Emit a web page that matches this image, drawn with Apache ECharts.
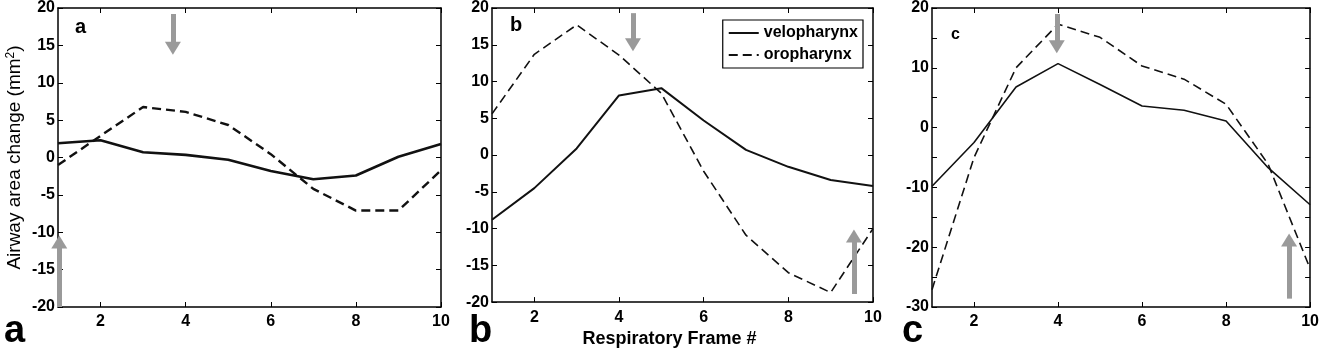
<!DOCTYPE html>
<html>
<head>
<meta charset="utf-8">
<script src="https://cdn.jsdelivr.net/npm/echarts@6/dist/echarts.min.js"></script>
<style>
  html, body { margin: 0; padding: 0; background: #fff; }
  #chart { width: 1322px; height: 353px; }
</style>
</head>
<body>
<div id="chart"></div>
<script>
// data
var frames = [1, 2, 3, 4, 5, 6, 7, 8, 9, 10];
var veloA = [1.9, 2.3, 0.7, 0.35, -0.3, -1.8, -2.9, -2.4, 0.1, 1.8];
var oroA = [-1.0, 2.9, 6.75, 6.1, 4.35, 0.45, -4.2, -7.1, -7.1, -1.7];
var veloB = [-8.8, -4.5, 0.9, 8.1, 9.1, 4.7, 0.7, -1.6, -3.4, -4.2];
var oroB = [5.6, 13.7, 17.7, 13.6, 8.4, -2.2, -10.9, -16.0, -18.7, -10.0];
var veloC = [-9.8, -2.5, 6.8, 10.7, 7.2, 3.6, 2.9, 1.1, -6.7, -12.9];
var oroC = [-27.1, -5.0, 10.0, 17.3, 15.1, 10.3, 8.1, 3.9, -6.1, -23.6];

// tick labels
var xTicks = [2, 4, 6, 8, 10];
var yTicksAB = [-20, -15, -10, -5, 0, 5, 10, 15, 20];
var yLabelsC = [-30, -20, -10, 0, 10, 20];
var yTicksC = [-30, -25, -20, -15, -10, -5, 0, 5, 10, 15, 20];

// gray arrows: [frame, from, to]
var arrowsA = [[3.7, 19.2, 14.6], [1.03, -20, -11.3]];
var arrowsB = [[4.33, 19.3, 15.0], [9.55, -18.9, -11.0]];
var arrowsC = [[3.97, 19.0, 13.5], [9.5, -28.6, -18.8]];

var font = 'Liberation Sans, Arial, sans-serif';
var grids = [
  {left: 58, top: 7, width: 383, height: 300},
  {left: 492, top: 7, width: 381, height: 300},
  {left: 932, top: 7, width: 381, height: 300}
];

function pts(ys) {
  return frames.map(function (f, i) { return [f, ys[i]]; });
}

function arrowLines(list) {
  return {
    silent: true,
    symbol: ['none', 'triangle'],
    symbolSize: [16, 13],
    label: {show: false},
    lineStyle: {color: '#9a9a9a', width: 5, type: 'solid'},
    data: list.map(function (a) {
      return [{coord: [a[0], a[1]]}, {coord: [a[0], a[2]]}];
    })
  };
}

var xAxes = [], yAxes = [];
for (var k = 0; k < 6; k++) {
  var g = k % 3, mirror = k >= 3, isC = g === 2;
  xAxes.push({
    type: 'value', gridIndex: g, min: 1, max: 10, position: mirror ? 'top' : 'bottom',
    axisLine: {onZero: false, lineStyle: {color: '#000', width: 1.5}},
    axisTick: {inside: true, length: 5, customValues: xTicks, lineStyle: {color: '#000'}},
    axisLabel: {show: !mirror, customValues: xTicks, margin: 7, color: '#000', fontFamily: font, fontWeight: 'bold', fontSize: 16},
    splitLine: {show: false}
  });
  yAxes.push({
    type: 'value', gridIndex: g, min: isC ? -30 : -20, max: 20, position: mirror ? 'right' : 'left',
    axisLine: {show: true, onZero: false, lineStyle: {color: '#000', width: 1.5}},
    axisTick: {show: true, inside: true, length: 5, customValues: isC ? yTicksC : yTicksAB, lineStyle: {color: '#000'}},
    axisLabel: {show: !mirror, customValues: isC ? yLabelsC : yTicksAB, margin: 3, color: '#000', fontFamily: font, fontWeight: 'bold', fontSize: 16},
    splitLine: {show: false}
  });
}

yAxes[0].name = '{t|Airway area change (mm}{s|2}{t|)}';
yAxes[0].nameLocation = 'middle';
yAxes[0].nameGap = 33;
yAxes[0].nameTextStyle = {
  rich: {
    t: {fontFamily: font, fontSize: 19, color: '#000'},
    s: {fontFamily: font, fontSize: 12, color: '#000', verticalAlign: 'top', padding: [0, 0, 8, 0]}
  }
};
xAxes[1].name = 'Respiratory Frame #';
xAxes[1].nameLocation = 'middle';
xAxes[1].nameGap = 27;
xAxes[1].nameTextStyle = {fontFamily: font, fontSize: 18, fontWeight: 'bold', color: '#000', padding: [0, 26, 0, 0]};

function line(name, g, ys, dashed, width, arrows) {
  var s = {
    name: name, type: 'line', xAxisIndex: g, yAxisIndex: g,
    data: pts(ys), symbol: 'none', color: '#111',
    lineStyle: {color: '#111', width: width, type: dashed ? [9, 5] : 'solid'}
  };
  if (arrows) s.markLine = arrowLines(arrows);
  return s;
}

var option = {
  animation: false,
  backgroundColor: '#fff',
  textStyle: {fontFamily: font},
  grid: grids,
  xAxis: xAxes,
  yAxis: yAxes,
  legend: {
    data: ['velopharynx', 'oropharynx'],
    orient: 'vertical',
    right: 1322 - 863, top: 20,
    borderColor: '#000', borderWidth: 1.2, borderRadius: 0,
    padding: [5, 5, 5, 5], itemGap: 6,
    itemWidth: 30, itemHeight: 14,
    itemStyle: {opacity: 0},
    textStyle: {fontFamily: font, fontWeight: 'bold', fontSize: 16, color: '#000'}
  },
  graphic: [
    {type: 'text', left: 75, top: 17, style: {text: 'a', font: 'bold 20px ' + font, fill: '#000'}},
    {type: 'text', left: 510, top: 15, style: {text: 'b', font: 'bold 20px ' + font, fill: '#000'}},
    {type: 'text', left: 951, top: 27, style: {text: 'c', font: 'bold 16px ' + font, fill: '#000'}},
    {type: 'text', left: 4, top: 313, style: {text: 'a', font: 'bold 38px ' + font, fill: '#000'}},
    {type: 'text', left: 469, top: 313, style: {text: 'b', font: 'bold 38px ' + font, fill: '#000'}},
    {type: 'text', left: 902, top: 313, style: {text: 'c', font: 'bold 38px ' + font, fill: '#000'}}
  ],
  series: [
    line('velopharynx a', 0, veloA, false, 2.6, arrowsA),
    line('oropharynx a', 0, oroA, true, 2.4),
    line('velopharynx', 1, veloB, false, 2, arrowsB),
    line('oropharynx', 1, oroB, true, 1.6),
    line('velopharynx c', 2, veloC, false, 1.6, arrowsC),
    line('oropharynx c', 2, oroC, true, 1.6)
  ]
};

var myChart = echarts.init(document.getElementById('chart'));
myChart.setOption(option);
</script>
</body>
</html>
